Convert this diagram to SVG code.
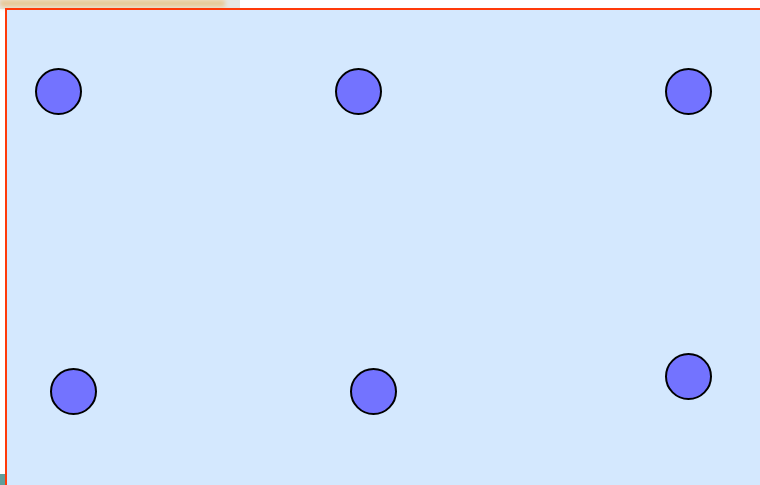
<svg xmlns="http://www.w3.org/2000/svg" width="760" height="485" viewBox="0 0 760 485">
<defs>
<style>
.node{fill:#7373ff;stroke:#000;stroke-width:2}
</style>
<linearGradient id="tan" x1="0" y1="0" x2="0" y2="1">
<stop offset="0" stop-color="#f3e6cf"/>
<stop offset="0.6" stop-color="#e2bd80"/>
<stop offset="1" stop-color="#efe3cf"/>
</linearGradient>
<filter id="blur" x="-0.1" y="-1" width="1.2" height="3"><feGaussianBlur stdDeviation="2"/></filter>
</defs>
<rect x="0" y="0" width="240" height="9" fill="#e6e6e4"/>
<rect x="0" y="-2" width="225" height="10" fill="url(#tan)" filter="url(#blur)"/>
<rect x="0" y="474" width="6" height="11" fill="#5f9e9a"/>
<rect x="6" y="9" width="760" height="480" fill="#d4e8fe" stroke="#ff3a0a" stroke-width="2"/>
<g id="connectors"></g>
<g id="n1"><circle class="node" cx="58.5" cy="91.5" r="22.5"/></g>
<g id="n2"><circle class="node" cx="358.5" cy="91.5" r="22.5"/></g>
<g id="n3"><circle class="node" cx="688.5" cy="91.5" r="22.5"/></g>
<g id="n4"><circle class="node" cx="73.5" cy="391.5" r="22.5"/></g>
<g id="n5"><circle class="node" cx="373.5" cy="391.5" r="22.5"/></g>
<g id="n6"><circle class="node" cx="688.5" cy="376.5" r="22.5"/></g>
</svg>
